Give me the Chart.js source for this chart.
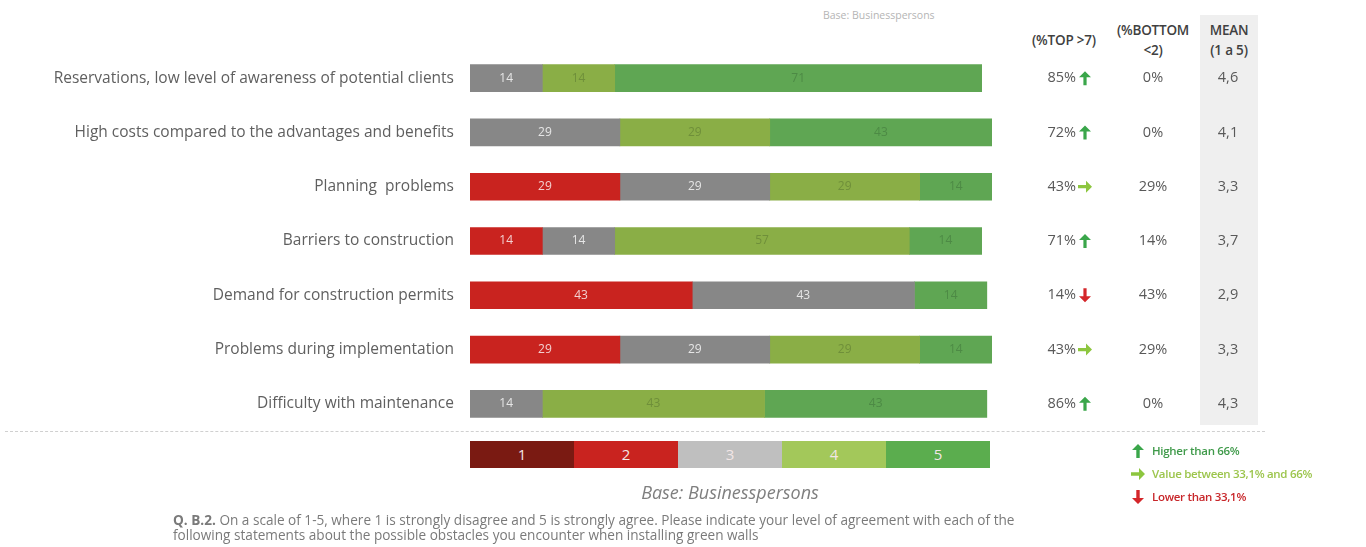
<!DOCTYPE html>
<html lang="en">
<head>
  <meta charset="UTF-8" />
  <title>Obstacles when installing green walls</title>
  <script src="https://cdn.jsdelivr.net/npm/chart.js"></script>
  <style>
    body {
      margin: 0;
      background: #ffffff;
      font-family: 'Open Sans', sans-serif;
    }

    #wrap {
      position: relative;
      width: 1366px;
      height: 547px;
      overflow: hidden;
    }

    #wrap canvas {
      position: absolute;
      left: 0;
      top: 0;
    }

    .txt {
      position: absolute;
      white-space: nowrap;
    }

    .meanBg {
      position: absolute;
      left: 1200px;
      top: 15px;
      width: 58px;
      height: 410px;
      background: #efefef;
    }

    .head {
      position: absolute;
      font-size: 13.5px;
      font-weight: 600;
      color: #404040;
      text-align: center;
      line-height: 20px;
      letter-spacing: -0.2px;
      white-space: nowrap;
    }

    .dash {
      position: absolute;
      left: 5px;
      top: 431px;
      width: 1260px;
      border-top: 1px dashed #d0d0d0;
    }

    #scale {
      position: absolute;
      left: 470px;
      top: 441px;
      width: 520px;
      height: 27px;
      display: flex;
    }

    #scale div {
      flex: 1;
      text-align: center;
      line-height: 27px;
      font-size: 15px;
      color: #f2e6e6;
    }

    .key {
      position: absolute;
      left: 1131px;
      font-size: 11.5px;
      font-weight: 600;
      letter-spacing: -0.3px;
      white-space: nowrap;
    }

    .key svg {
      vertical-align: -3px;
      margin-right: 7px;
    }
  </style>
</head>
<body>
  <div id="wrap">
    <div class="meanBg"></div>
    <div class="txt" style="left:823px; top:8px; font-size:10.5px; color:#b5b5b5;">Base: Businesspersons</div>
    <div class="head" style="left:1019px; top:30px; width:90px;">(%TOP &gt;7)</div>
    <div class="head" style="left:1108px; top:20px; width:90px;">(%BOTTOM<br>&lt;2)</div>
    <div class="head" style="left:1200px; top:20px; width:58px;">MEAN<br>(1 a 5)</div>
    <div class="dash"></div>
    <canvas id="chart" width="1366" height="547"></canvas>
    <div id="scale"></div>
    <div class="txt" style="left:470px; top:480px; width:520px; text-align:center; font-size:18px; font-style:italic; color:#7f7f7f;">Base: Businesspersons</div>
    <div class="key" style="top:443px; color:#3f9a4a;"><svg width="14" height="14" viewBox="-7 -7 14 14"><path d="M0,-7 L6,-1 L1.7,-1 L1.7,7 L-1.7,7 L-1.7,-1 L-6,-1 Z" fill="#3aa64a"/></svg>Higher than 66%</div>
    <div class="key" style="top:466px; color:#9cc54c;"><svg width="14" height="14" viewBox="-7 -7 14 14"><path d="M0,-7 L6,-1 L1.7,-1 L1.7,7 L-1.7,7 L-1.7,-1 L-6,-1 Z" fill="#8dc63f" transform="rotate(90)"/></svg>Value between 33,1% and 66%</div>
    <div class="key" style="top:489px; color:#c8262a;"><svg width="14" height="14" viewBox="-7 -7 14 14"><path d="M0,-7 L6,-1 L1.7,-1 L1.7,7 L-1.7,7 L-1.7,-1 L-6,-1 Z" fill="#d4262a" transform="rotate(180)"/></svg>Lower than 33,1%</div>
    <div class="txt" style="left:173px; top:512px; font-size:13.6px; color:#7a7a7a; line-height:15px;">
      <b>Q. B.2.</b> On a scale of 1-5, where 1 is strongly disagree and 5 is strongly agree. Please indicate your level of agreement with each of the<br>
      following statements about the possible obstacles you encounter when installing green walls
    </div>
  </div>

  <script>
    const statements = [
      "Reservations, low level of awareness of potential clients",
      "High costs compared to the advantages and benefits",
      "Planning  problems",
      "Barriers to construction",
      "Demand for construction permits",
      "Problems during implementation",
      "Difficulty with maintenance"
    ];

    const scaleLabels = ["1", "2", "3", "4", "5"];

    // % of answers per scale point, one array per point
    const score1 = [0, 0, 0, 0, 0, 0, 0];
    const score2 = [0, 0, 29, 14, 43, 29, 0];
    const score3 = [14, 29, 29, 14, 43, 29, 14];
    const score4 = [14, 29, 29, 57, 0, 29, 43];
    const score5 = [71, 43, 14, 14, 14, 14, 43];

    const topPct = [85, 72, 43, 71, 14, 43, 86];
    const bottomPct = [0, 0, 29, 14, 43, 29, 0];
    const means = ["4,6", "4,1", "3,3", "3,7", "2,9", "3,3", "4,3"];

    const barColors = ["#7b1c14", "#c9231f", "#878787", "#8aae46", "#5fa653"];
    const keyColors = ["#7a1a12", "#c9231f", "#bfbfbf", "#a3c85a", "#5bad4e"];
    const labelColors = ["#f3d0d0", "#f3d0d0", "#e6e6e6", "#6f8f3a", "#4d8a45"];

    // legend strip under the bars
    const scaleBox = document.getElementById("scale");
    scaleLabels.forEach((s, i) => {
      const d = document.createElement("div");
      d.style.background = keyColors[i];
      d.textContent = s;
      scaleBox.appendChild(d);
    });

    function drawArrow(ctx, x, y, dir, color) {
      ctx.save();
      ctx.translate(x, y);
      if (dir === "right") ctx.rotate(Math.PI / 2);
      if (dir === "down") ctx.rotate(Math.PI);
      ctx.fillStyle = color;
      ctx.beginPath();
      ctx.moveTo(0, -7);
      ctx.lineTo(6, -1);
      ctx.lineTo(1.6, -1);
      ctx.lineTo(1.6, 7);
      ctx.lineTo(-1.6, 7);
      ctx.lineTo(-1.6, -1);
      ctx.lineTo(-6, -1);
      ctx.closePath();
      ctx.fill();
      ctx.restore();
    }

    const extras = {
      id: "extras",
      afterDatasetsDraw(chart) {
        const ctx = chart.ctx;
        ctx.save();
        ctx.font = "12px 'Open Sans'";
        ctx.textAlign = "center";
        ctx.textBaseline = "middle";
        chart.data.datasets.forEach((ds, di) => {
          chart.getDatasetMeta(di).data.forEach((bar, i) => {
            const v = ds.data[i];
            if (!v) return;
            ctx.fillStyle = labelColors[di];
            ctx.fillText(v, (bar.x + bar.base) / 2, bar.y);
          });
        });

        const yScale = chart.scales.y;
        ctx.font = "14.5px 'Open Sans'";
        statements.forEach((s, i) => {
          const y = yScale.getPixelForValue(i);
          ctx.textAlign = "right";
          ctx.fillStyle = "#595959";
          ctx.fillText(topPct[i] + "%", 1076, y);
          let dir = "up", col = "#3aa64a";
          if (topPct[i] <= 66) { dir = "right"; col = "#8dc63f"; }
          if (topPct[i] < 33.1) { dir = "down"; col = "#d4262a"; }
          drawArrow(ctx, 1085, y, dir, col);
          ctx.fillStyle = "#595959";
          ctx.textAlign = "center";
          ctx.fillText(bottomPct[i] + "%", 1153, y);
          ctx.fillText(means[i], 1228, y);
        });
        ctx.restore();
      }
    };

    const series = [score1, score2, score3, score4, score5];

    new Chart(document.getElementById("chart"), {
      type: "bar",
      data: {
        labels: statements,
        datasets: series.map((d, i) => ({
          label: scaleLabels[i],
          data: d,
          // empty segments stay invisible
          backgroundColor: c => c.raw ? barColors[i] : "rgba(0,0,0,0)",
          barThickness: 27,
          borderWidth: 0
        }))
      },
      options: {
        indexAxis: "y",
        responsive: false,
        animation: false,
        layout: { padding: { left: 0, right: 374, top: 51, bottom: 116 } },
        plugins: {
          legend: { display: false },
          tooltip: { enabled: false }
        },
        scales: {
          x: {
            stacked: true,
            min: 0,
            max: 101,
            display: false
          },
          y: {
            stacked: true,
            grid: { display: false, drawTicks: false },
            border: { display: false },
            ticks: {
              padding: 16,
              color: "#5f5f5f",
              font: { family: "'Open Sans'", size: 15.5 }
            },
            afterFit(scale) { scale.width = 470; }
          }
        }
      },
      plugins: [extras]
    });
  </script>
</body>
</html>
